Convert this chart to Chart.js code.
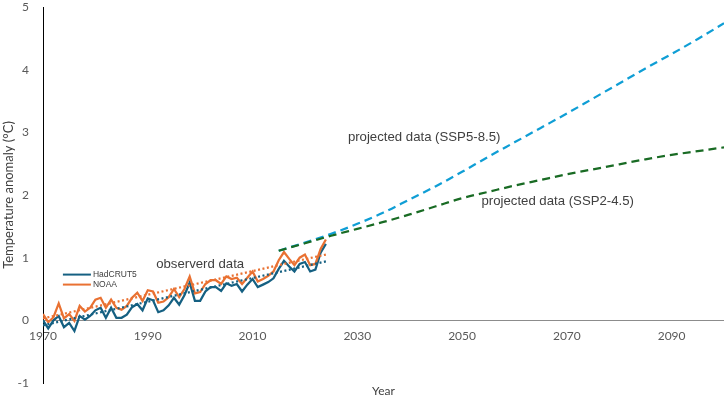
<!DOCTYPE html>
<html><head><meta charset="utf-8">
<script src="https://cdn.jsdelivr.net/npm/chart.js@4.4.1/dist/chart.umd.min.js"></script>
<style>html,body{margin:0;padding:0;background:#fff}#wrap{width:724px;height:398px;position:relative}</style>
</head><body><div id="wrap"><canvas id="c" width="724" height="398"></canvas></div>
<script>
const obsYears = [1970,1971,1972,1973,1974,1975,1976,1977,1978,1979,
  1980,1981,1982,1983,1984,1985,1986,1987,1988,1989,
  1990,1991,1992,1993,1994,1995,1996,1997,1998,1999,
  2000,2001,2002,2003,2004,2005,2006,2007,2008,2009,
  2010,2011,2012,2013,2014,2015,2016,2017,2018,2019,
  2020,2021,2022,2023,2024];
const hadcrut5 = [0.00,-0.13,0.00,0.07,-0.11,-0.04,-0.17,0.07,0.01,0.07,
  0.16,0.20,0.04,0.20,0.04,0.04,0.09,0.21,0.26,0.16,
  0.35,0.32,0.13,0.16,0.24,0.36,0.25,0.40,0.60,0.31,
  0.31,0.46,0.53,0.53,0.47,0.59,0.55,0.58,0.46,0.57,
  0.66,0.53,0.57,0.61,0.67,0.82,0.95,0.86,0.78,0.90,
  0.93,0.78,0.81,1.08,1.22];
const noaa = [0.10,-0.03,0.05,0.27,0.03,0.10,-0.01,0.23,0.14,0.20,
  0.33,0.36,0.20,0.33,0.20,0.17,0.23,0.36,0.44,0.31,
  0.48,0.46,0.28,0.30,0.37,0.50,0.37,0.50,0.70,0.43,
  0.45,0.58,0.64,0.64,0.58,0.70,0.66,0.68,0.58,0.68,
  0.78,0.62,0.66,0.71,0.78,0.96,1.09,0.98,0.88,1.00,
  1.05,0.88,0.90,1.14,1.29];
const trendYears = [1970, 2024];
const hadcrutTrend = [-0.08, 0.94];
const noaaTrend = [0.03, 1.05];
const projYears = [2015,2020,2025,2030,2035,2040,2045,2050,2055,2060,2065,2070,2075,2080,2085,2090,2095,2100];
const ssp585 = [1.11,1.24,1.38,1.54,1.72,1.93,2.14,2.37,2.61,2.84,3.07,3.30,3.54,3.78,4.02,4.25,4.49,4.74];
const ssp245 = [1.11,1.23,1.35,1.46,1.57,1.69,1.82,1.95,2.05,2.15,2.24,2.33,2.41,2.49,2.57,2.64,2.70,2.76];
const xTickLabels = [1970,1990,2010,2030,2050,2070,2090];
const yTickLabels = [-1,0,1,2,3,4,5];

const C_HAD = '#156082', C_NOAA = '#E97132', C_GREEN = '#196B24', C_BLUE = '#0F9ED5';
const pts = (xs, ys) => xs.map((x, i) => ({x: x, y: ys[i]}));

const notes = [
  {text: 'observerd data', x: 1991.6, y: 0.89},
  {text: 'projected data (SSP5-8.5)', x: 2028.2, y: 2.92},
  {text: 'projected data (SSP2-4.5)', x: 2053.7, y: 1.90}
];

// plot frame: value 5 at 7px, value -1 at 383px (as in the reference)
const PLOT_TOP = 7, PLOT_BOTTOM = 383;
const frame = {
  id: 'frame',
  afterLayout(chart) {
    const y = chart.scales.y;
    y.top = PLOT_TOP; y.bottom = PLOT_BOTTOM; y.height = PLOT_BOTTOM - PLOT_TOP;
    y.configure();
    const ca = chart.chartArea;
    ca.top = PLOT_TOP; ca.bottom = PLOT_BOTTOM; ca.height = PLOT_BOTTOM - PLOT_TOP;
  }
};

const overlay = {
  id: 'overlay',
  afterDatasetsDraw(chart) {
    const {ctx, scales: {x, y}, chartArea} = chart;
    ctx.save();
    ctx.fillStyle = '#404040';
    ctx.font = '13.2px "Liberation Sans", Arial, sans-serif';
    ctx.textBaseline = 'middle';
    ctx.textAlign = 'left';
    notes.forEach(n => ctx.fillText(n.text, x.getPixelForValue(n.x), y.getPixelForValue(n.y)));
    const leg = [chart.data.datasets.find(d => d.label === 'HadCRUT5'), chart.data.datasets.find(d => d.label === 'NOAA')];
    const lx = x.getPixelForValue(1973.8), ly0 = y.getPixelForValue(0.73);
    ctx.font = '8.5px "Liberation Sans", Arial, sans-serif';
    leg.forEach((d, i) => {
      const yy = ly0 + i * 10;
      ctx.strokeStyle = d.borderColor; ctx.lineWidth = 2;
      ctx.beginPath(); ctx.moveTo(lx, yy); ctx.lineTo(lx + 28, yy); ctx.stroke();
      ctx.fillStyle = '#404040';
      ctx.fillText(d.label, lx + 30, yy);
    });
    ctx.font = '12px Lato, sans-serif';
    ctx.textAlign = 'center';
    ctx.fillStyle = '#404040';
    ctx.fillText('Year', (chartArea.left + chartArea.right) / 2, 391);
    ctx.restore();
  }
};

new Chart(document.getElementById('c'), {
  type: 'line',
  data: {
    datasets: [
      {label: 'SSP2-4.5', data: pts(projYears, ssp245), borderColor: C_GREEN, borderWidth: 2.25, borderDash: [8, 5], cubicInterpolationMode: 'monotone', pointRadius: 0},
      {label: 'SSP5-8.5', data: pts(projYears, ssp585), borderColor: C_BLUE, borderWidth: 2.25, borderDash: [8, 5], cubicInterpolationMode: 'monotone', pointRadius: 0},
      {label: 'NOAA trend', data: pts(trendYears, noaaTrend), borderColor: C_NOAA, borderWidth: 2.25, borderDash: [2, 2.5], pointRadius: 0},
      {label: 'HadCRUT5 trend', data: pts(trendYears, hadcrutTrend), borderColor: C_HAD, borderWidth: 2.25, borderDash: [2, 2.5], pointRadius: 0},
      {label: 'NOAA', data: pts(obsYears, noaa), borderColor: C_NOAA, borderWidth: 2.25, pointRadius: 0, tension: 0},
      {label: 'HadCRUT5', data: pts(obsYears, hadcrut5), borderColor: C_HAD, borderWidth: 2.25, pointRadius: 0, tension: 0}
    ]
  },
  options: {
    responsive: false,
    animation: false,
    events: [],
    layout: {padding: {left: 0, right: 0, top: 0, bottom: 15}},
    plugins: {legend: {display: false}, tooltip: {enabled: false}},
    scales: {
      x: {
        type: 'linear', min: 1970, max: 2100,
        position: {y: 0},
        afterBuildTicks: s => { s.ticks = xTickLabels.map(v => ({value: v})); },
        afterFit: s => { s.height = 0; s.paddingLeft = 0; s.paddingRight = 0; },
        ticks: {callback: v => String(v), color: '#595959', font: {family: 'Lato', size: 12}, padding: 9, maxRotation: 0, autoSkip: false},
        grid: {display: false, drawTicks: false},
        border: {color: '#8c8c8c', width: 1}
      },
      y: {
        type: 'linear', min: -1, max: 5,
        afterBuildTicks: s => { s.ticks = yTickLabels.map(v => ({value: v})); },
        afterFit: s => { s.width = 43; },
        ticks: {color: '#595959', font: {family: 'Lato', size: 12}, padding: 14},
        grid: {display: false, drawTicks: false},
        border: {color: '#000000', width: 1},
        title: {display: true, text: 'Temperature anomaly (°C)', color: '#404040', font: {family: 'Lato', size: 13}, padding: {top: 1, bottom: 0}}
      }
    }
  },
  plugins: [frame, overlay]
});
</script></body></html>
